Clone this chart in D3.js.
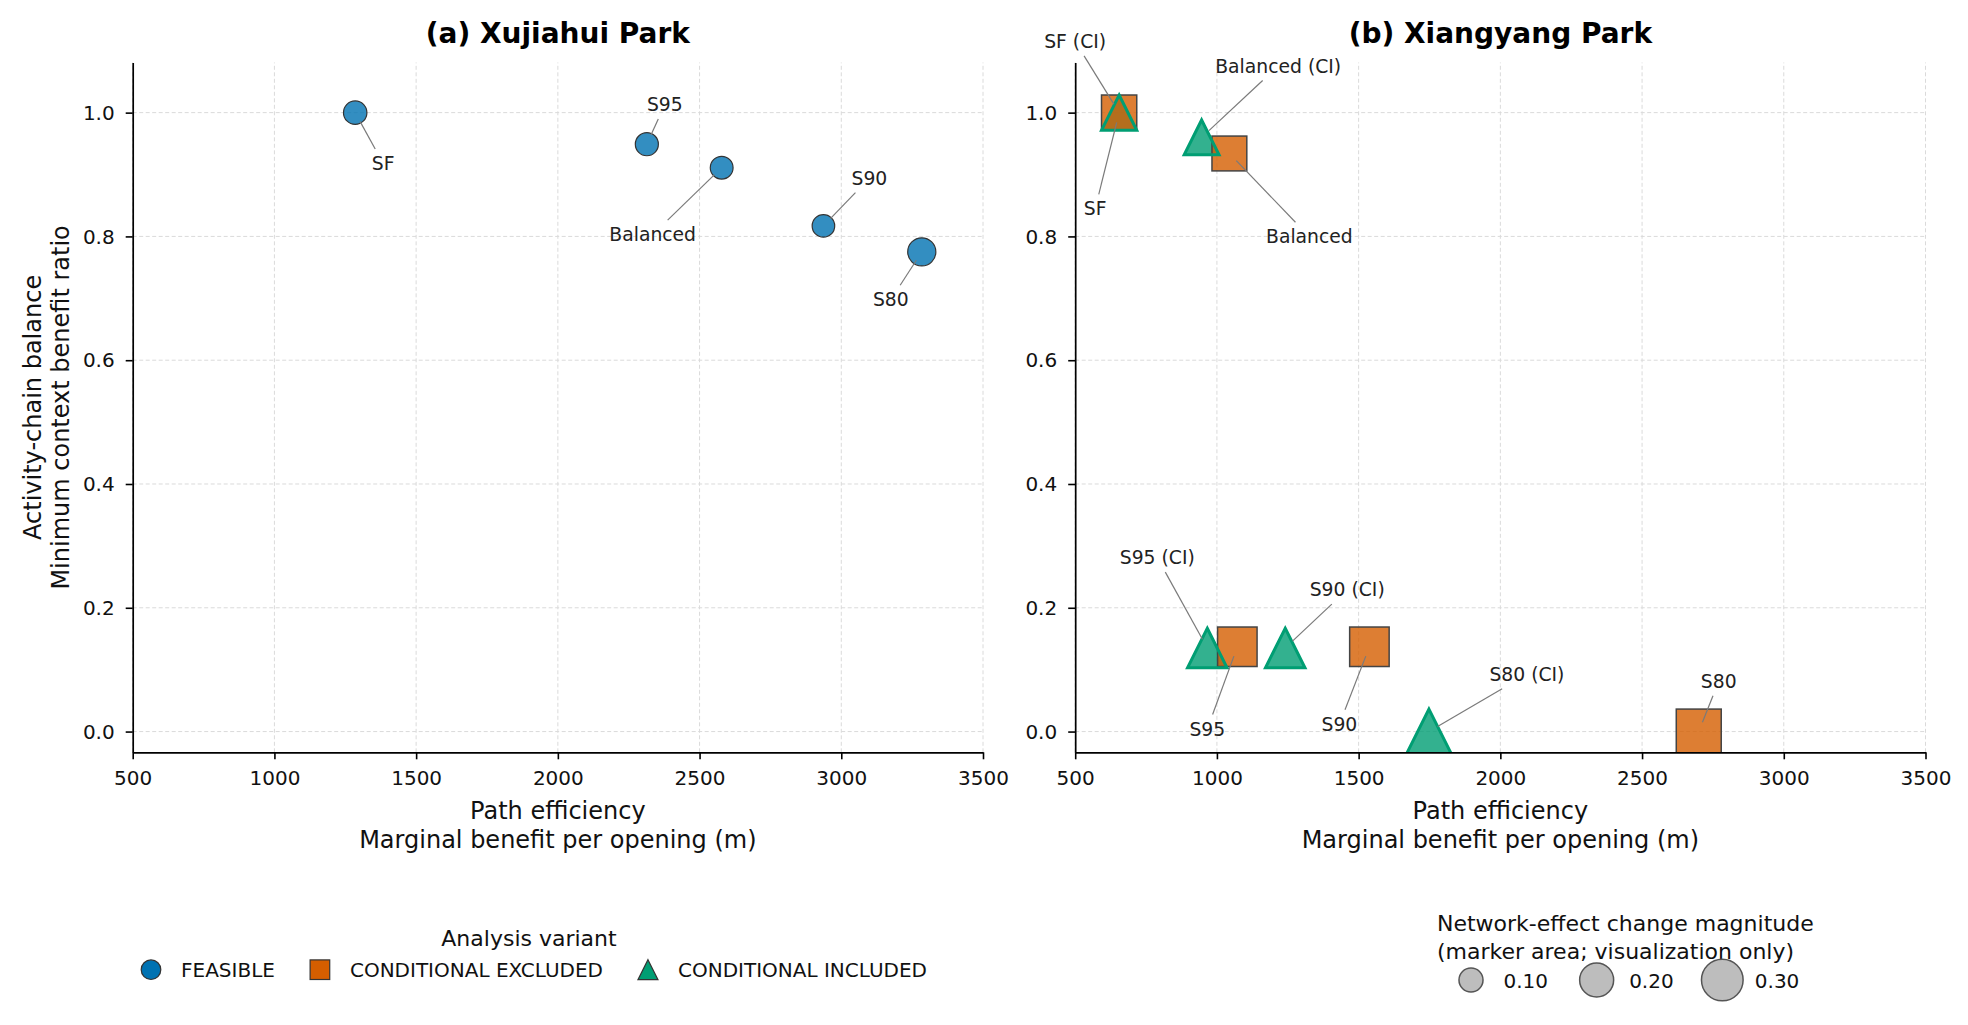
<!DOCTYPE html>
<html>
<head>
<meta charset="utf-8">
<script src="https://cdn.jsdelivr.net/npm/d3@7"></script>
<style>
  html, body { margin: 0; padding: 0; background: #fff; }
  svg { display: block; font-family: "DejaVu Sans", sans-serif; }
</style>
</head>
<body>
<div id="chart"></div>
<script>
// ---- data ----
const xTicks = [500, 1000, 1500, 2000, 2500, 3000, 3500];
const yTicks = [0, 0.2, 0.4, 0.6, 0.8, 1.0];

// (a) Xujiahui Park - feasible
const xujiahuiLabels = ['SF', 'S95', 'Balanced', 'S90', 'S80'];
const xujiahuiX      = [1285, 2314, 2578, 2937, 3284];
const xujiahuiY      = [1.0, 0.949, 0.911, 0.817, 0.775];
const xujiahuiMag    = [0.095, 0.092, 0.09, 0.088, 0.137];

// (b) Xiangyang Park - conditional excluded / included
const xiangyangLabels = ['SF', 'Balanced', 'S95', 'S90', 'S80'];
const xiangyangExclX  = [655, 1044, 1072, 1538, 2700];
const xiangyangExclY  = [1.0, 0.934, 0.137, 0.137, 0.0];
const xiangyangInclX  = [655, 946, 966, 1241, 1748];
const xiangyangInclY  = [1.0, 0.960, 0.135, 0.135, 0.0];
const xiangyangMag    = [0.215, 0.21, 0.27, 0.27, 0.35];

const variants = ['FEASIBLE', 'CONDITIONAL EXCLUDED', 'CONDITIONAL INCLUDED'];
const sizeLegendValues = [0.10, 0.20, 0.30];

// label offsets in px from the marker (layout only)
const offA  = { 'SF': [28, 50.6], 'S95': [18, -40], 'Balanced': [-69, 66.6], 'S90': [46, -48], 'S80': [-31, 47.6] };
const offCE = { 'SF': [-24, 96], 'Balanced': [80, 83], 'S95': [-30, 82], 'S90': [-30, 77.3], 'S80': [20, -50.6] };
const offCI = { 'SF': [-44, -71.5], 'Balanced': [76.6, -71.6], 'S95': [-50, -90.6], 'S90': [62, -58.6], 'S80': [98, -57.6] };

const W = 1968, H = 1025;
const COL = { feas: '#0072B2', excl: '#D55E00', incl: '#009E73' };

const svg = d3.select('#chart').append('svg').attr('width', W).attr('height', H);
const defs = svg.append('defs');

const y = d3.scaleLinear().domain([-0.0335, 1.081]).range([752.3, 62.5]);
const size = d3.scaleSqrt().domain([0, 1]).range([0, 76]);   // marker "diameter"
const xA = d3.scaleLinear().domain([500, 3500]).range([132.7, 983]);
const xB = d3.scaleLinear().domain([500, 3500]).range([1075.2, 1925.5]);

const triPath = d => { const h = d / 2; return `M0,${-h}L${h},${h}L${-h},${h}Z`; };

function drawPanel(x, title, id) {
  const g = svg.append('g');
  const [px0, px1] = x.range();
  const [py0, py1] = y.range();

  const grid = g.append('g').attr('stroke', '#dadada').attr('stroke-width', 1).attr('stroke-dasharray', '4,2.5');
  grid.selectAll('.gx').data(xTicks).join('line').attr('class', 'gx')
    .attr('x1', d => x(d)).attr('x2', d => x(d)).attr('y1', py0).attr('y2', py1);
  grid.selectAll('.gy').data(yTicks).join('line').attr('class', 'gy')
    .attr('y1', d => y(d)).attr('y2', d => y(d)).attr('x1', px0).attr('x2', px1);

  defs.append('clipPath').attr('id', id).append('rect')
    .attr('x', px0).attr('y', py1).attr('width', px1 - px0).attr('height', py0 - py1);
  const marks = g.append('g').attr('clip-path', `url(#${id})`);

  const ax = g.append('g').attr('transform', `translate(0,${py0})`)
    .call(d3.axisBottom(x).tickValues(xTicks).tickFormat(d3.format('d')).tickSize(7).tickSizeOuter(0).tickPadding(12));
  const ay = g.append('g').attr('transform', `translate(${px0},0)`)
    .call(d3.axisLeft(y).tickValues(yTicks).tickFormat(d3.format('.1f')).tickSize(7).tickSizeOuter(0).tickPadding(11));
  [ax, ay].forEach(a => {
    a.select('.domain').attr('stroke', '#000').attr('stroke-width', 1.7);
    a.selectAll('.tick line').attr('stroke', '#000').attr('stroke-width', 1.6);
    a.selectAll('.tick text').attr('font-size', 20).attr('fill', '#111')
      .attr('font-family', '"DejaVu Sans", sans-serif');
  });
  ay.selectAll('.tick text').attr('dy', '0.33em');

  g.append('text').attr('x', (px0 + px1) / 2).attr('y', 43)
    .attr('text-anchor', 'middle').attr('font-size', 28).attr('font-weight', 'bold').text(title);

  const lab = g.append('g').attr('font-size', 24).attr('text-anchor', 'middle').attr('fill', '#111');
  lab.append('text').attr('x', (px0 + px1) / 2).attr('y', 819.3).text('Path efficiency');
  lab.append('text').attr('x', (px0 + px1) / 2).attr('y', 848.3).text('Marginal benefit per opening (m)');

  const ann = g.append('g');
  return { marks, ann };
}

function annotate(layer, px, py, text, off) {
  const fs = 18.75;
  const t = layer.append('text').attr('x', px + off[0]).attr('y', py + off[1] + 0.36 * fs)
    .attr('text-anchor', 'middle').attr('font-size', fs).attr('fill', '#222').text(text);
  const b = t.node().getBBox();
  const pad = 4;
  const cx = b.x + b.width / 2, cy = b.y + b.height / 2;
  const dx = px - cx, dy = py - cy, L = Math.hypot(dx, dy);
  const ux = dx / L, uy = dy / L;
  const hw = b.width / 2 + pad, hh = b.height / 2 + pad;
  const s = Math.min(ux ? hw / Math.abs(ux) : Infinity, uy ? hh / Math.abs(uy) : Infinity);
  layer.insert('line', 'text')
    .attr('x1', cx + ux * s).attr('y1', cy + uy * s)
    .attr('x2', px - ux * 10).attr('y2', py - uy * 10)
    .attr('stroke', '#7a7a7a').attr('stroke-width', 1.2);
}

// ---- panel (a) ----
const pA = drawPanel(xA, '(a) Xujiahui Park', 'clipA');
const dataA = xujiahuiLabels.map((l, i) => ({ l, x: xujiahuiX[i], y: xujiahuiY[i], m: xujiahuiMag[i] }));
pA.marks.selectAll('circle').data(dataA).join('circle')
  .attr('cx', d => xA(d.x)).attr('cy', d => y(d.y)).attr('r', d => size(d.m) / 2)
  .attr('fill', COL.feas).attr('fill-opacity', 0.8)
  .attr('stroke', '#333').attr('stroke-width', 1.2);
dataA.forEach(d => annotate(pA.ann, xA(d.x), y(d.y), d.l, offA[d.l]));

// ---- panel (b) ----
const pB = drawPanel(xB, '(b) Xiangyang Park', 'clipB');
const exclB = xiangyangLabels.map((l, i) => ({ l, x: xiangyangExclX[i], y: xiangyangExclY[i], m: xiangyangMag[i] }));
const inclB = xiangyangLabels.map((l, i) => ({ l, x: xiangyangInclX[i], y: xiangyangInclY[i], m: xiangyangMag[i] }));

// triangle fills, then squares, then triangle outlines on top
pB.marks.append('g').selectAll('path').data(inclB).join('path')
  .attr('transform', d => `translate(${xB(d.x)},${y(d.y)})`).attr('d', d => triPath(size(d.m)))
  .attr('fill', COL.incl).attr('fill-opacity', 0.8).attr('stroke', 'none');
pB.marks.append('g').selectAll('rect').data(exclB).join('rect')
  .attr('x', d => xB(d.x) - size(d.m) / 2).attr('y', d => y(d.y) - size(d.m) / 2)
  .attr('width', d => size(d.m)).attr('height', d => size(d.m))
  .attr('fill', COL.excl).attr('fill-opacity', 0.8)
  .attr('stroke', '#444').attr('stroke-width', 1.5);
pB.marks.append('g').selectAll('path').data(inclB).join('path')
  .attr('transform', d => `translate(${xB(d.x)},${y(d.y)})`).attr('d', d => triPath(size(d.m)))
  .attr('fill', 'none').attr('stroke', COL.incl).attr('stroke-width', 3).attr('stroke-linejoin', 'miter');

inclB.forEach(d => annotate(pB.ann, xB(d.x), y(d.y), d.l + ' (CI)', offCI[d.l]));
exclB.forEach(d => annotate(pB.ann, xB(d.x), y(d.y), d.l, offCE[d.l]));

// y label (left panel only)
const yMid = (y.range()[0] + y.range()[1]) / 2;
[['Activity-chain balance', 40.5], ['Minimum context benefit ratio', 69.3]].forEach(([t, bx]) => {
  svg.append('text').attr('transform', `translate(${bx},${yMid}) rotate(-90)`)
    .attr('text-anchor', 'middle').attr('font-size', 24).attr('fill', '#111').text(t);
});

// ---- legend: analysis variant ----
const leg = svg.append('g');
const legY = 969.7;
let mx = 151;
const itemXs = [];
variants.forEach((v, i) => {
  const t = leg.append('text').attr('x', mx + 30).attr('y', 977.3)
    .attr('font-size', 20).attr('fill', '#111').text(v);
  itemXs.push(mx);
  if (i === 0) leg.append('circle').attr('cx', mx).attr('cy', legY).attr('r', 9.8)
    .attr('fill', COL.feas).attr('stroke', '#333').attr('stroke-width', 1.2);
  if (i === 1) leg.append('rect').attr('x', mx - 9.8).attr('y', legY - 9.8).attr('width', 19.6).attr('height', 19.6)
    .attr('fill', COL.excl).attr('stroke', '#333').attr('stroke-width', 1.2);
  if (i === 2) leg.append('path').attr('transform', `translate(${mx},${legY})`).attr('d', triPath(20))
    .attr('fill', COL.incl).attr('stroke', '#333').attr('stroke-width', 1.2);
  mx = mx + 30 + t.node().getComputedTextLength() + 45;
});
const legEnd = mx - 45;
leg.append('text').attr('x', (itemXs[0] - 20 + legEnd) / 2).attr('y', 946)
  .attr('text-anchor', 'middle').attr('font-size', 22).attr('fill', '#111').text('Analysis variant');

// ---- legend: marker size ----
const sleg = svg.append('g');
sleg.append('text').attr('x', 1437).attr('y', 930.5).attr('font-size', 22).attr('fill', '#111')
  .text('Network-effect change magnitude');
sleg.append('text').attr('x', 1437).attr('y', 958.5).attr('font-size', 22).attr('fill', '#111')
  .text('(marker area; visualization only)');
sizeLegendValues.forEach((v, i) => {
  const cx = 1471 + i * 125.65;
  sleg.append('circle').attr('cx', cx).attr('cy', 980).attr('r', size(v) / 2)
    .attr('fill', '#bdbdbd').attr('stroke', '#555').attr('stroke-width', 1.5);
  sleg.append('text').attr('x', cx + 32.5).attr('y', 988.3).attr('font-size', 20).attr('fill', '#111')
    .text(d3.format('.2f')(v));
});
</script>
</body>
</html>
